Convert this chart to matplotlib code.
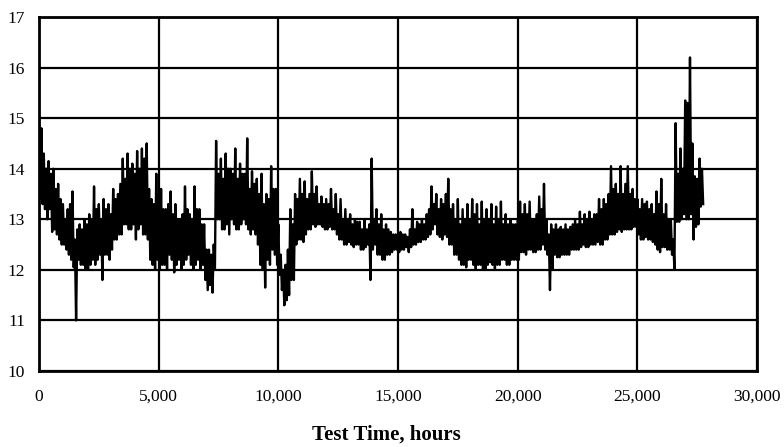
import matplotlib
matplotlib.use("Agg")
import matplotlib.pyplot as plt
import numpy as np

# Readings every 100 h: upper swing at t, lower swing at t + 50 h
hours_step = 100

upper_values = [
    15.0, 14.8, 14.3, 14.0, 14.15, 13.9, 14.0, 13.6, 13.7, 13.4,
    13.3, 13.0, 13.2, 13.3, 13.55, 12.6, 12.8, 12.9, 12.8, 13.0,
    12.9, 13.1, 13.0, 13.65, 13.2, 13.3, 13.0, 13.4, 13.2, 13.3,
    13.1, 13.6, 13.4, 13.5, 13.7, 14.2, 13.8, 14.3, 14.0, 14.1,
    13.9, 14.35, 14.0, 14.4, 14.2, 14.5, 13.6, 13.4, 13.3, 13.9,
    13.5, 13.6, 13.2, 13.2, 13.3, 13.55, 13.1, 13.3, 13.0, 13.0,
    13.1, 13.65, 13.2, 13.1, 13.0, 13.65, 13.2, 13.2, 12.9, 12.9,
    12.4, 12.4, 12.3, 12.5, 14.55, 13.9, 14.2, 13.8, 14.3, 14.0,
    14.0, 13.9, 14.4, 13.8, 14.1, 13.9, 13.9, 14.6, 13.6, 13.95,
    13.7, 13.8, 13.5, 13.9, 13.3, 13.5, 13.4, 14.05, 13.6, 13.6,
    12.9, 12.3, 12.0, 12.1, 12.4, 13.2, 12.9, 13.5, 13.4, 13.8,
    13.5, 13.75, 13.4, 13.5, 13.95, 13.5, 13.65, 13.3, 13.45, 13.3,
    13.4, 13.3, 13.6, 13.2, 13.5, 13.1, 13.4, 13.0, 13.2, 13.0,
    13.1, 12.9, 13.0, 12.95, 12.95, 12.8, 13.0, 12.8, 12.9, 14.2,
    13.0, 13.2, 12.9, 13.1, 12.8, 12.9, 12.8, 12.75, 12.7, 12.7,
    12.7, 12.75, 12.7, 12.7, 12.65, 12.8, 13.2, 12.8, 12.95, 12.9,
    13.0, 12.9, 13.1, 13.2, 13.65, 13.3, 13.5, 13.2, 13.4, 13.3,
    13.5, 13.8, 13.2, 13.3, 13.0, 13.4, 12.9, 13.2, 13.0, 13.3,
    13.0, 13.4, 13.1, 13.3, 12.9, 13.35, 13.0, 13.2, 13.0, 13.3,
    12.9, 13.25, 13.0, 13.35, 12.9, 13.1, 12.9, 13.0, 12.9, 12.9,
    13.0, 13.35, 13.1, 13.3, 13.1, 13.35, 13.0, 13.0, 13.1, 13.45,
    13.2, 13.7, 13.0, 12.7, 12.9, 12.8, 12.9, 12.8, 12.85, 12.8,
    12.9, 12.8, 12.85, 12.9, 13.0, 12.9, 13.15, 12.9, 13.1, 13.0,
    13.15, 13.0, 13.1, 13.1, 13.4, 13.2, 13.4, 13.3, 13.5, 14.05,
    13.6, 13.7, 13.5, 14.05, 13.5, 13.7, 14.05, 13.5, 13.6, 13.4,
    13.4, 13.2, 13.4, 13.3, 13.35, 13.2, 13.3, 13.1, 13.55, 13.3,
    13.8, 13.1, 13.3, 13.0, 13.0, 12.6, 14.9, 13.9, 14.4, 14.0,
    15.35, 15.3, 16.2, 14.5, 13.85, 13.8, 14.2, 14.0,
]

lower_values = [
    13.4, 13.3, 13.2, 13.0, 13.2, 12.75, 12.8, 12.7, 12.6, 12.5,
    12.5, 12.4, 12.3, 12.2, 12.05, 11.0, 12.2, 12.1, 12.1, 12.0,
    12.0, 12.1, 12.2, 12.1, 12.2, 12.3, 11.8, 12.3, 12.3, 12.2,
    12.4, 12.6, 12.6, 12.7, 12.7, 12.9, 12.9, 12.8, 12.8, 12.9,
    12.6, 12.8, 12.9, 12.7, 12.7, 12.6, 12.2, 12.1, 12.0, 12.2,
    12.0, 12.1, 12.1, 12.0, 12.3, 12.2, 11.95, 12.1, 12.2, 12.0,
    12.1, 12.2, 12.3, 12.1, 12.0, 12.1, 12.2, 12.0, 12.1, 11.8,
    11.6, 11.7, 11.55, 12.0, 13.0, 13.0, 12.8, 12.8, 12.9, 12.7,
    13.0, 12.9, 12.8, 12.8, 12.9, 13.0, 12.9, 12.8, 12.7, 12.8,
    12.7, 12.5, 12.1, 12.0, 11.65, 12.2, 12.1, 12.4, 12.3, 12.1,
    11.9, 11.6, 11.3, 11.4, 11.5, 11.8, 11.8, 12.5, 12.6, 12.6,
    12.55, 12.7, 12.8, 12.8, 12.9, 12.85, 12.9, 12.9, 12.85, 12.8,
    12.8, 12.85, 12.8, 12.8, 12.7, 12.6, 12.6, 12.5, 12.5, 12.55,
    12.5, 12.45, 12.5, 12.5, 12.4, 12.4, 12.45, 12.5, 11.8, 12.4,
    12.5, 12.3, 12.3, 12.2, 12.2, 12.3, 12.3, 12.35, 12.4, 12.4,
    12.35, 12.4, 12.4, 12.45, 12.35, 12.45, 12.5, 12.5, 12.55, 12.55,
    12.6, 12.6, 12.65, 12.7, 12.8, 12.9, 12.7, 12.65, 12.6, 12.7,
    12.65, 12.5, 12.5, 12.3, 12.3, 12.2, 12.1, 12.1, 12.05, 12.2,
    12.2, 12.1, 12.0, 12.1, 12.1, 12.0, 12.0, 12.1, 12.15, 12.1,
    12.0, 12.1, 12.1, 12.2, 12.2, 12.1, 12.1, 12.2, 12.2, 12.2,
    12.2, 12.35, 12.35, 12.3, 12.4, 12.4, 12.35, 12.35, 12.4, 12.4,
    12.5, 12.4, 12.3, 11.6, 12.0, 12.3, 12.25, 12.25, 12.3, 12.3,
    12.3, 12.3, 12.4, 12.4, 12.4, 12.4, 12.45, 12.5, 12.45, 12.45,
    12.5, 12.5, 12.5, 12.55, 12.5, 12.5, 12.6, 12.6, 12.7, 12.7,
    12.7, 12.75, 12.8, 12.75, 12.8, 12.8, 12.8, 12.8, 12.85, 12.85,
    12.7, 12.6, 12.6, 12.65, 12.6, 12.6, 12.55, 12.5, 12.4, 12.35,
    12.45, 12.45, 12.4, 12.4, 12.3, 12.0, 12.95, 12.95, 13.0, 13.1,
    13.0, 13.0, 13.1, 12.6, 12.85, 12.9, 13.25, 13.3,
]

xticks = [0, 5000, 10000, 15000, 20000, 25000, 30000]
xtick_labels = ["0", "5,000", "10,000", "15,000", "20,000", "25,000", "30,000"]
yticks = [10, 11, 12, 13, 14, 15, 16, 17]
x_label = "Test Time, hours"

n = len(upper_values)
t_up = hours_step * np.arange(n)
t_lo = t_up + hours_step / 2
hours = np.column_stack([t_up, t_lo]).ravel()
values = np.column_stack([upper_values, lower_values]).ravel()

plt.rcParams["font.family"] = ["Liberation Serif", "DejaVu Serif"]

fig = plt.figure(figsize=(7.84, 4.47), dpi=100)
ax = fig.add_axes([39 / 784, 1 - 371 / 447, (757 - 39) / 784, (371 - 17) / 447])

ax.plot(hours, values, color="black", linewidth=1.7, zorder=3)

ax.set_xlim(0, 30000)
ax.set_ylim(10, 17)
ax.set_xticks(xticks)
ax.set_xticklabels(xtick_labels)
ax.set_yticks(yticks)
ax.tick_params(axis="both", length=0, labelsize=12.5)
ax.tick_params(axis="x", pad=13)
ax.tick_params(axis="y", pad=10)
ax.grid(True, color="black", linewidth=1.6, zorder=1)
ax.set_axisbelow(True)
for sp in ax.spines.values():
    sp.set_linewidth(2)
    sp.set_color("black")

fig.text(386 / 784, 1 - 435 / 447, x_label, ha="center", va="center",
         fontsize=15, fontweight="bold")

fig.savefig("out.png", dpi=100)
